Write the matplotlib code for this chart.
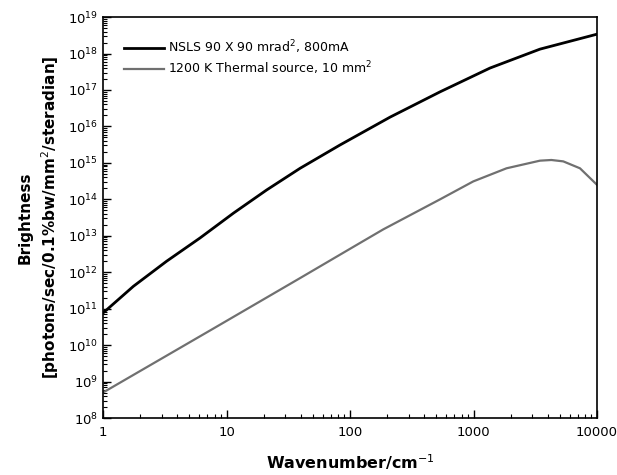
import matplotlib
matplotlib.use("Agg")
import matplotlib.pyplot as plt
from matplotlib.ticker import LogLocator, FixedLocator, FixedFormatter, NullFormatter

# NSLS synchrotron brightness
nsls_wn = [1, 1.76, 3.27, 6.1, 11.4, 21.1, 39.4, 83, 211, 536, 1360, 3450, 10000]
nsls_b = [7.6e10, 4.1e11, 2.0e12, 8.7e12, 4.2e13, 1.8e14, 7.1e14, 3.1e15,
          1.8e16, 8.9e16, 4.0e17, 1.32e18, 3.4e18]

# 1200 K thermal source brightness
glo_wn = [1, 7.76, 39.4, 120, 186, 536, 995, 1850, 3450, 4270, 5330, 7280, 10000]
glo_b = [5.0e8, 2.8e10, 6.9e11, 6.3e12, 1.5e13, 1.0e14, 3.1e14, 7.1e14,
         1.15e15, 1.2e15, 1.1e15, 7.1e14, 2.5e14]

labels = ['NSLS 90 X 90 mrad$^2$, 800mA', '1200 K Thermal source, 10 mm$^2$']
xticks = [1, 10, 100, 1000, 10000]

fig = plt.figure(figsize=(6.17, 4.75), dpi=100)
ax = fig.add_axes([0.167, 0.12, 0.8006, 0.844])

ax.plot(nsls_wn, nsls_b, color='black', lw=2.0, label=labels[0])
ax.plot(glo_wn, glo_b, color='#707070', lw=1.6, label=labels[1])

ax.set_xscale('log')
ax.set_yscale('log')
ax.set_xlim(1, 10000)
ax.set_ylim(1e8, 1e19)

ax.xaxis.set_major_locator(FixedLocator(xticks))
ax.xaxis.set_major_formatter(FixedFormatter([str(v) for v in xticks]))
ax.xaxis.set_minor_locator(LogLocator(base=10, subs=range(2, 10), numticks=20))
ax.xaxis.set_minor_formatter(NullFormatter())
ax.yaxis.set_major_locator(LogLocator(base=10, numticks=20))
ax.yaxis.set_minor_locator(LogLocator(base=10, subs=range(2, 10), numticks=20))
ax.yaxis.set_minor_formatter(NullFormatter())

ax.tick_params(which='both', direction='in', top=False, right=False, labelsize=9.5)
ax.tick_params(which='major', length=6, width=1)
ax.tick_params(which='minor', length=3, width=0.8)
ax.tick_params(axis='x', pad=6)
for s in ax.spines.values():
    s.set_linewidth(1.2)

ax.set_xlabel('Wavenumber/cm$^{-1}$', fontsize=11.5, fontweight='bold', labelpad=9)
ax.set_ylabel('Brightness\n[photons/sec/0.1%bw/mm$^2$/steradian]',
              fontsize=11, fontweight='bold', labelpad=5, linespacing=1.4)

ax.legend(loc='upper left', frameon=False, fontsize=9, handlelength=3.2,
          handletextpad=0.3, borderaxespad=1.3, labelspacing=0.3)

fig.savefig('out.png', dpi=100)
